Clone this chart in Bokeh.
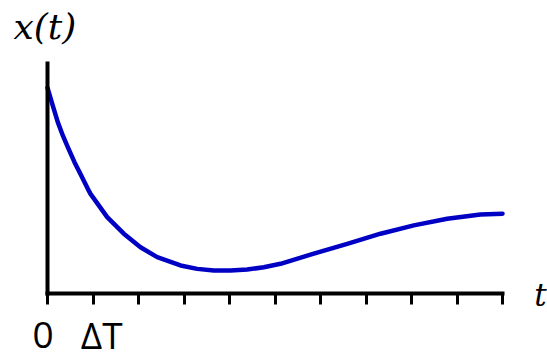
from bokeh.plotting import figure
from bokeh.models import Range1d, FixedTicker, Label
from bokeh.embed import file_html
from bokeh.resources import INLINE

# Curve samples (t in units of ΔT, x in arbitrary units)
t_vals = [0.0, 0.007, 0.116, 0.226, 0.336, 0.446, 0.593, 0.741, 0.886, 0.945, 1.312, 1.677,
          2.044, 2.411, 2.923, 3.290, 3.655, 4.022, 4.389, 4.754, 5.121, 5.853, 6.587,
          7.319, 8.051, 8.785, 9.516, 10.0]
x_vals = [8.94, 8.90, 8.17, 7.45, 6.87, 6.36, 5.71, 5.13, 4.55, 4.33, 3.32, 2.60,
          2.01, 1.58, 1.22, 1.07, 1.00, 1.00, 1.04, 1.14, 1.29, 1.73, 2.16,
          2.60, 2.96, 3.25, 3.43, 3.47]
tick_positions = [0, 1, 2, 3, 4, 5, 6, 7, 8, 9, 10]
tick_labels = ["0", "ΔT"]
axis_labels = ["x(t)", "t"]

p = figure(width=547, height=361, output_backend="svg", toolbar_location=None,
           x_range=Range1d(-1.033, 10.989), y_range=Range1d(-2.957, 12.739),
           min_border=0, min_border_left=0, min_border_right=0,
           min_border_top=0, min_border_bottom=0)
p.outline_line_color = None
p.grid.visible = False
p.background_fill_color = "white"
p.border_fill_color = "white"

# bottom axis, placed at x(t)=0
xa = p.xaxis[0]
xa.fixed_location = 0
xa.bounds = (0, 10)
xa.ticker = FixedTicker(ticks=tick_positions)
xa.major_label_overrides = {t: "" for t in tick_positions}
xa.major_label_text_font_size = "1px"
xa.major_tick_in = 0
xa.major_tick_out = 11
xa.major_tick_line_width = 3
xa.major_tick_line_color = "black"
xa.minor_tick_line_color = None
xa.axis_line_width = 4
xa.axis_line_color = "black"
xa.axis_line_cap = "square"

# left axis, placed at t=0
ya = p.yaxis[0]
ya.fixed_location = 0
ya.bounds = (0, 10)
ya.ticker = FixedTicker(ticks=[])
ya.major_tick_line_color = None
ya.minor_tick_line_color = None
ya.major_label_text_font_size = "1px"
ya.axis_line_width = 4
ya.axis_line_color = "black"
ya.axis_line_cap = "square"

p.line(t_vals, x_vals, line_color="#0000c4", line_width=4.5, line_cap="round",
       line_join="round")

# tick labels
p.add_layout(Label(x=-0.099, y=-1.8, text=tick_labels[0], text_align="center",
                   text_baseline="alphabetic", text_font="Open Sans",
                   text_font_size="37px", text_color="black"))
p.add_layout(Label(x=1.19, y=-1.8, text=tick_labels[1], text_align="center",
                   text_baseline="alphabetic", text_font="Open Sans",
                   text_font_size="37px", text_color="black"))
# axis names
p.add_layout(Label(x=-0.747, y=11.617, text=axis_labels[0], text_align="left",
                   text_baseline="alphabetic", text_font="DejaVu Serif",
                   text_font_style="italic", text_font_size="36px", text_color="black"))
p.add_layout(Label(x=10.70, y=-0.065, text=axis_labels[1], text_align="left",
                   text_baseline="alphabetic", text_font="DejaVu Serif",
                   text_font_style="italic", text_font_size="31px", text_color="black"))

open("out.html", "w").write(file_html(p, INLINE))
